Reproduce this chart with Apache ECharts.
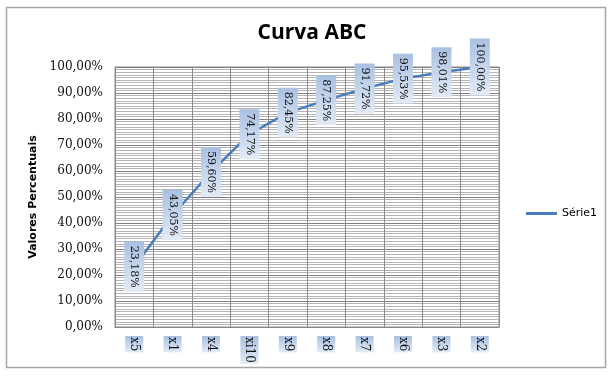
<!DOCTYPE html>
<html>
<head>
<meta charset="utf-8">
<script src="https://cdn.jsdelivr.net/npm/echarts@6/dist/echarts.min.js"></script>
<style>
html,body{margin:0;padding:0;background:#fff;}
#chart{width:611px;height:376px;}
</style>
</head>
<body>
<div id="chart"></div>
<script>
// Cumulative share per item (ABC curve)
var categories = ['x5', 'x1', 'x4', 'xi10', 'x9', 'x8', 'x7', 'x6', 'x3', 'x2'];
var cumulative = [23.18, 43.05, 59.60, 74.17, 82.45, 87.25, 91.72, 95.53, 98.01, 100.00];
var seriesName = 'Série1';

function pct(v) {
  return Number(v).toFixed(2).replace('.', ',') + '%';
}

function boxFill() {
  return new echarts.graphic.LinearGradient(0, 0, 1, 0, [
    { offset: 0, color: '#a9c0e2' },
    { offset: 1, color: '#e3ebf6' }
  ]);
}

var chart = echarts.init(document.getElementById('chart'));
chart.setOption({
  animation: false,
  backgroundColor: '#ffffff',
  title: {
    text: 'Curva ABC',
    left: 307,
    textAlign: 'center',
    top: 18,
    textStyle: { fontFamily: 'Open Sans', fontWeight: 'bold', fontSize: 21, color: '#000' }
  },
  graphic: [{
    type: 'rect',
    shape: { x: 6.5, y: 7.5, width: 599, height: 360 },
    style: { fill: 'none', stroke: '#a6a6a6', lineWidth: 1.5 },
    silent: true,
    z: -1
  }],
  legend: {
    left: 521,
    top: 203,
    icon: 'rect',
    itemWidth: 31,
    itemHeight: 3,
    itemGap: 4,
    textStyle: { fontFamily: 'DejaVu Sans', fontSize: 11, color: '#000' },
    data: [seriesName]
  },
  grid: {
    left: 115, top: 67, width: 384, height: 260,
    show: true, borderColor: '#888', borderWidth: 1
  },
  xAxis: {
    type: 'category',
    data: categories,
    boundaryGap: true,
    axisLine: { show: true, lineStyle: { color: '#888' } },
    axisTick: { show: false },
    splitLine: { show: true, lineStyle: { color: '#8c8c8c', width: 1 } },
    axisLabel: {
      rotate: -90,
      margin: 9,
      fontFamily: 'DejaVu Serif',
      fontSize: 12,
      color: '#111',
      backgroundColor: boxFill(),
      padding: [3, 1, 3, 1]
    }
  },
  yAxis: {
    type: 'value',
    min: 0, max: 100, interval: 10,
    name: 'Valores Percentuais',
    nameLocation: 'middle',
    nameGap: 72,
    nameTextStyle: { fontFamily: 'DejaVu Sans', fontWeight: 'bold', fontSize: 11, color: '#000' },
    axisLine: { show: true, lineStyle: { color: '#888' } },
    axisTick: { show: false },
    axisLabel: {
      formatter: pct,
      margin: 12,
      fontFamily: 'DejaVu Serif',
      fontSize: 12,
      color: '#111'
    },
    splitLine: { show: true, lineStyle: { color: '#808080', width: 1 } },
    minorTick: { show: false, splitNumber: 10 },
    minorSplitLine: { show: true, lineStyle: { color: '#b4b4b4', width: 1 } }
  },
  series: [{
    name: seriesName,
    type: 'line',
    data: cumulative,
    showSymbol: true,
    symbol: 'circle',
    symbolSize: 0,
    lineStyle: { color: '#4a7ebb', width: 2.5 },
    itemStyle: { color: '#4a7ebb' },
    label: {
      show: true,
      position: 'inside',
      rotate: -90,
      formatter: function (p) { return pct(p.value); },
      fontFamily: 'DejaVu Serif',
      fontSize: 11,
      color: '#111',
      backgroundColor: boxFill(),
      padding: [5, 4, 4, 4]
    }
  }]
});
</script>
</body>
</html>
